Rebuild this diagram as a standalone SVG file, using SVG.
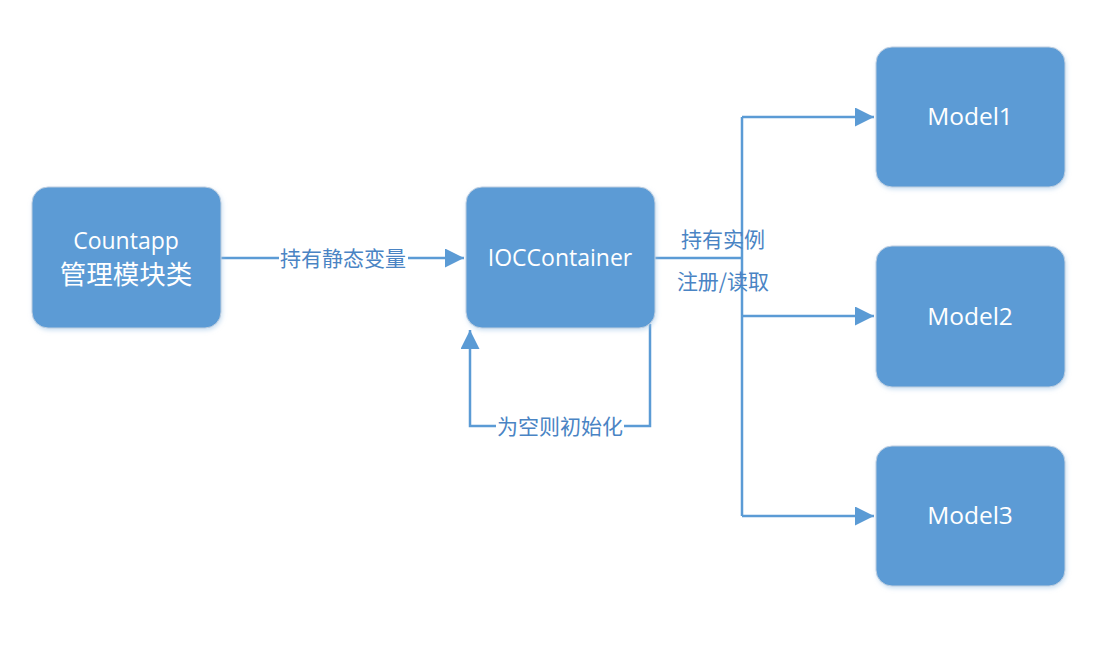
<svg xmlns="http://www.w3.org/2000/svg" width="1101" height="657" viewBox="0 0 1101 657">
<defs>
<filter id="sh" x="-10%" y="-10%" width="130%" height="130%">
<feDropShadow dx="1" dy="2" stdDeviation="2" flood-color="#9dc3e6" flood-opacity="0.5"/>
</filter>
<marker id="ar" viewBox="0 0 10 10" refX="10" refY="5" markerWidth="19" markerHeight="19" markerUnits="userSpaceOnUse" orient="auto">
<path d="M0,0 L10,5 L0,10 z" fill="#5b9bd5"/>
</marker>
</defs>
<style>
.node{fill:#5b9bd5;stroke:#c0cfe0;stroke-width:1;filter:url(#sh)}
.nt{fill:#ffffff;font-family:"Open Sans","Noto Sans CJK SC",sans-serif;font-size:23px;text-anchor:middle}
.mt{fill:#ffffff;font-family:"Open Sans",sans-serif;font-size:24.5px;text-anchor:middle}
.ct{fill:#ffffff;font-family:"Noto Sans CJK SC",sans-serif;font-size:26.5px;text-anchor:middle}
.ln{fill:none;stroke:#5b9bd5;stroke-width:2.5}
.lb{fill:#4a84c4;font-family:"Noto Sans CJK SC",sans-serif;font-size:21px;text-anchor:middle}
.bg{fill:#ffffff}
</style>
<rect width="1101" height="657" fill="#ffffff"/>
<g id="connectors">
<path class="ln" d="M221,258 H464" marker-end="url(#ar)"/>
<rect class="bg" x="279" y="245" width="129" height="26"/>
<text class="lb" x="343" y="266">持有静态变量</text>
<path class="ln" d="M655,258 H742"/>
<path class="ln" d="M742,117 V516"/>
<path class="ln" d="M742,117 H874" marker-end="url(#ar)"/>
<path class="ln" d="M742,316 H874" marker-end="url(#ar)"/>
<path class="ln" d="M742,516 H874" marker-end="url(#ar)"/>
<text class="lb" x="723" y="247">持有实例</text>
<text class="lb" x="723" y="289">注册/读取</text>
<path class="ln" d="M650,324 V426 H470 V330" marker-end="url(#ar)"/>
<rect class="bg" x="496" y="413" width="128" height="26"/>
<text class="lb" x="560" y="434">为空则初始化</text>
</g>
<g id="countapp">
<rect class="node" x="32" y="187" width="189" height="141" rx="16"/>
<text class="nt" x="126" y="249">Countapp</text>
<text class="ct" x="126" y="284">管理模块类</text>
</g>
<g id="ioccontainer">
<rect class="node" x="466" y="187" width="189" height="141" rx="16"/>
<text class="nt" x="560" y="266">IOCContainer</text>
</g>
<g id="model1">
<rect class="node" x="876" y="47" width="189" height="140" rx="16"/>
<text class="mt" x="970" y="125">Model1</text>
</g>
<g id="model2">
<rect class="node" x="876" y="246" width="189" height="141" rx="16"/>
<text class="mt" x="970" y="325">Model2</text>
</g>
<g id="model3">
<rect class="node" x="876" y="446" width="189" height="140" rx="16"/>
<text class="mt" x="970" y="524">Model3</text>
</g>
</svg>
